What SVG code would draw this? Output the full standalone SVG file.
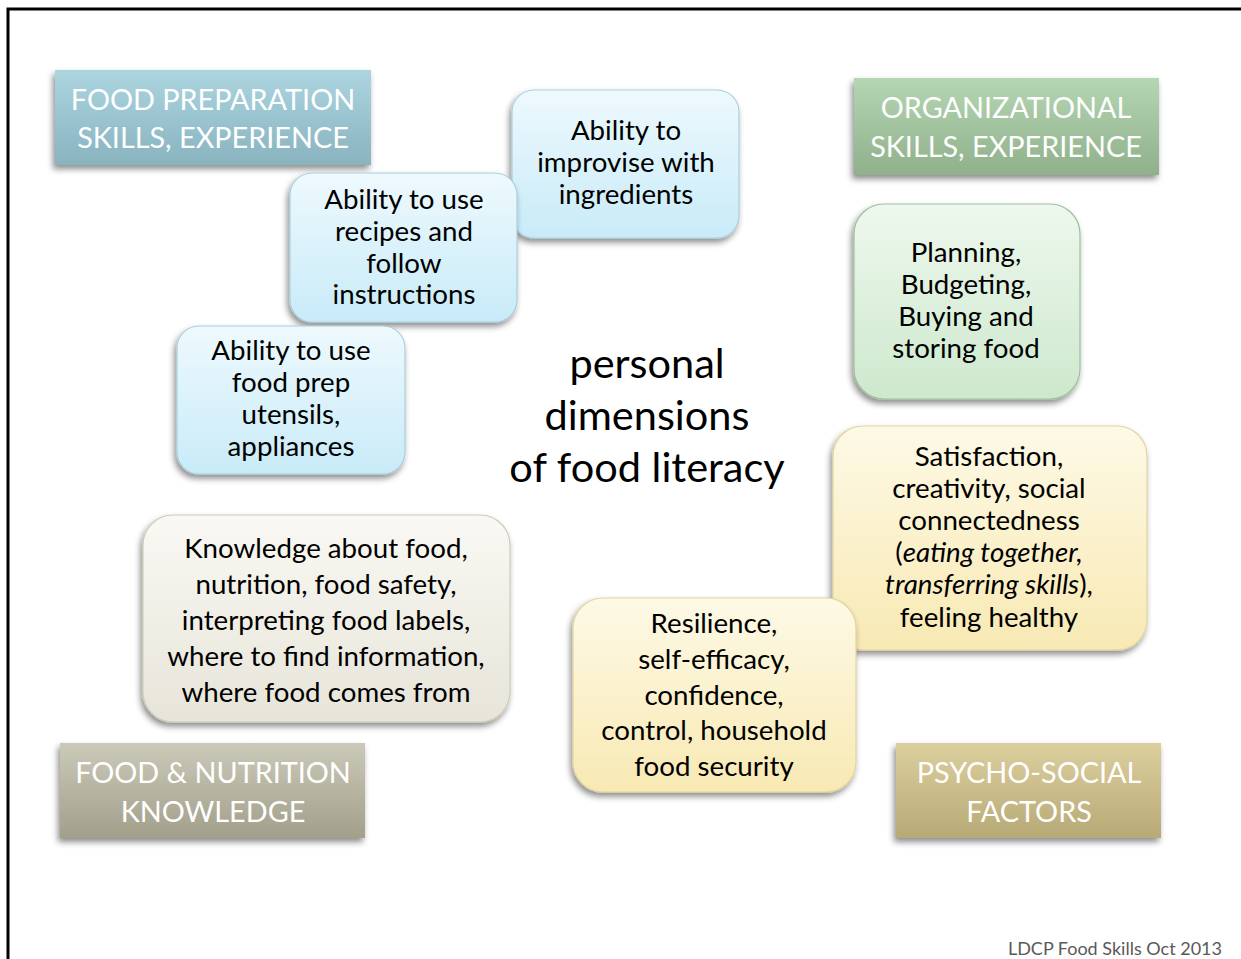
<svg xmlns="http://www.w3.org/2000/svg" width="1241" height="959" viewBox="0 0 1241 959">
<defs>
<linearGradient id="gBlueHead" x1="0" y1="0" x2="0" y2="1"><stop offset="0" stop-color="#acd5e0"/><stop offset="1" stop-color="#88b3bf"/></linearGradient>
<linearGradient id="gGreenHead" x1="0" y1="0" x2="0" y2="1"><stop offset="0" stop-color="#b5d6b2"/><stop offset="1" stop-color="#8fb08b"/></linearGradient>
<linearGradient id="gGrayHead" x1="0" y1="0" x2="0" y2="1"><stop offset="0" stop-color="#cbc9b8"/><stop offset="1" stop-color="#a29f8b"/></linearGradient>
<linearGradient id="gGoldHead" x1="0" y1="0" x2="0" y2="1"><stop offset="0" stop-color="#dccf9e"/><stop offset="1" stop-color="#b8aa77"/></linearGradient>
<linearGradient id="gBlue" x1="0" y1="0" x2="0" y2="1"><stop offset="0" stop-color="#eef9fd"/><stop offset="1" stop-color="#c8ebf8"/></linearGradient>
<linearGradient id="gGreen" x1="0" y1="0" x2="0" y2="1"><stop offset="0" stop-color="#eef8ee"/><stop offset="1" stop-color="#cde8cd"/></linearGradient>
<linearGradient id="gYellow" x1="0" y1="0" x2="0" y2="1"><stop offset="0" stop-color="#fdf9e6"/><stop offset="1" stop-color="#f8e9b3"/></linearGradient>
<linearGradient id="gGray" x1="0" y1="0" x2="0" y2="1"><stop offset="0" stop-color="#f9f8f3"/><stop offset="1" stop-color="#e7e5d9"/></linearGradient>
<filter id="shadow" x="-10%" y="-10%" width="120%" height="125%"><feDropShadow dx="-2" dy="4" stdDeviation="3" flood-color="#000" flood-opacity="0.45"/></filter>
</defs>
<style>
.head text{font-family:Lato,"Liberation Sans",sans-serif;font-size:28.8px;fill:#ffffff;text-anchor:middle}
.box text{font-family:Lato,"Liberation Sans",sans-serif;font-size:27.7px;fill:#000;text-anchor:middle}
.box rect{stroke-width:1.2}
.center text{font-family:Lato,"Liberation Sans",sans-serif;font-size:41.5px;fill:#000;text-anchor:middle}
.foot{font-family:Lato,"Liberation Sans",sans-serif;font-size:18px;fill:#595959;text-anchor:end}
</style>
<rect x="0" y="0" width="1241" height="959" fill="#ffffff"/>
<g id="frame"><path d="M8 959 V9 H1241" fill="none" stroke="#000" stroke-width="3"/></g>

<g id="head-food-prep" class="head"><rect x="55" y="70" width="316" height="95" fill="url(#gBlueHead)" filter="url(#shadow)"/><text x="213" y="110">FOOD PREPARATION</text><text x="213" y="148">SKILLS, EXPERIENCE</text></g>
<g id="head-org" class="head"><rect x="854" y="78" width="305" height="97" fill="url(#gGreenHead)" filter="url(#shadow)"/><text x="1006" y="118">ORGANIZATIONAL</text><text x="1006" y="157">SKILLS, EXPERIENCE</text></g>
<g id="head-knowledge" class="head"><rect x="60" y="743" width="305" height="95" fill="url(#gGrayHead)" filter="url(#shadow)"/><text x="213" y="783">FOOD &amp; NUTRITION</text><text x="213" y="822">KNOWLEDGE</text></g>
<g id="head-psycho" class="head"><rect x="896" y="743" width="265" height="95" fill="url(#gGoldHead)" filter="url(#shadow)"/><text x="1029" y="783">PSYCHO-SOCIAL</text><text x="1029" y="822">FACTORS</text></g>

<g id="box-improvise" class="box"><rect x="512" y="90" width="227" height="148" rx="22" fill="url(#gBlue)" stroke="#a9cfdb" filter="url(#shadow)"/><text x="626" y="140">Ability to</text><text x="626" y="172">improvise with</text><text x="626" y="204">ingredients</text></g>
<g id="box-recipes" class="box"><rect x="290" y="173" width="227" height="149" rx="22" fill="url(#gBlue)" stroke="#a9cfdb" filter="url(#shadow)"/><text x="404" y="209">Ability to use</text><text x="404" y="241">recipes and</text><text x="404" y="273">follow</text><text x="404" y="304">instructions</text></g>
<g id="box-utensils" class="box"><rect x="177" y="326" width="228" height="148" rx="22" fill="url(#gBlue)" stroke="#a9cfdb" filter="url(#shadow)"/><text x="291" y="360">Ability to use</text><text x="291" y="392">food prep</text><text x="291" y="424">utensils,</text><text x="291" y="456">appliances</text></g>
<g id="box-planning" class="box"><rect x="854" y="204" width="226" height="195" rx="30" fill="url(#gGreen)" stroke="#9dbf9d" filter="url(#shadow)"/><text x="966" y="262">Planning,</text><text x="966" y="294">Budgeting,</text><text x="966" y="326">Buying and</text><text x="966" y="358">storing food</text></g>
<g id="box-satisfaction" class="box"><rect x="833" y="426" width="314" height="224" rx="30" fill="url(#gYellow)" stroke="#e2d49e" filter="url(#shadow)"/><text x="989" y="466">Satisfaction,</text><text x="989" y="498">creativity, social</text><text x="989" y="530">connectedness</text><text x="989" y="562">(<tspan font-style="italic">eating together,</tspan></text><text x="989" y="594"><tspan font-style="italic">transferring skills</tspan>),</text><text x="989" y="627">feeling healthy</text></g>
<g id="box-resilience" class="box"><rect x="573" y="598" width="283" height="194" rx="30" fill="url(#gYellow)" stroke="#e2d49e" filter="url(#shadow)"/><text x="714" y="633">Resilience,</text><text x="714" y="669">self-efficacy,</text><text x="714" y="705">confidence,</text><text x="714" y="740">control, household</text><text x="714" y="776">food security</text></g>
<g id="box-knowledge" class="box"><rect x="143" y="515" width="367" height="207" rx="30" fill="url(#gGray)" stroke="#cfcbb8" filter="url(#shadow)"/><text x="326" y="558">Knowledge about food,</text><text x="326" y="594">nutrition, food safety,</text><text x="326" y="630">interpreting food labels,</text><text x="326" y="666">where to find information,</text><text x="326" y="702">where food comes from</text></g>

<g id="center-title" class="center"><text x="647" y="378">personal</text><text x="647" y="430">dimensions</text><text x="647" y="482">of food literacy</text></g>
<g id="connectors"></g>
<text class="foot" x="1222" y="955">LDCP Food Skills Oct 2013</text>
</svg>
